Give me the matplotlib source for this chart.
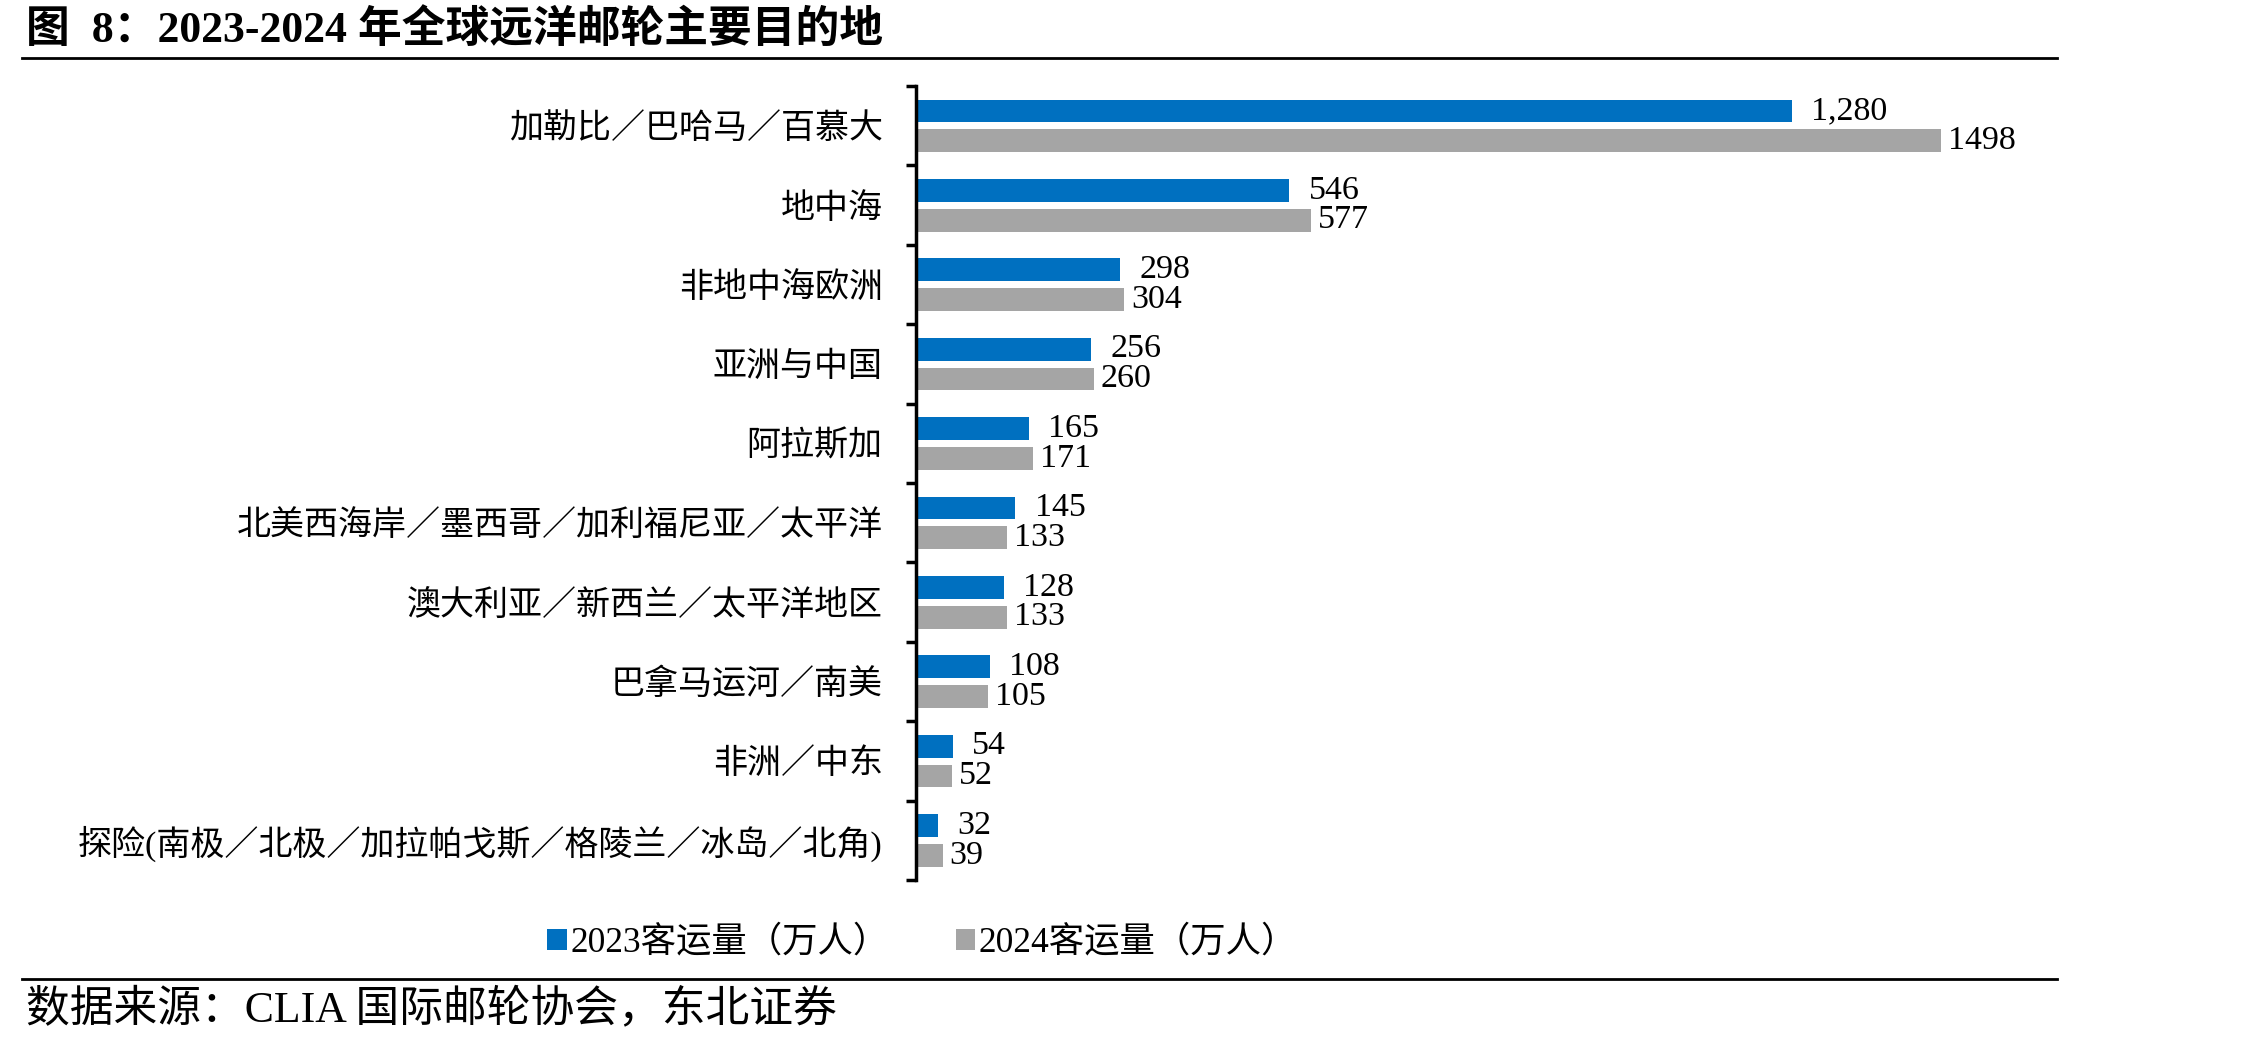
import matplotlib
matplotlib.use("Agg")
import matplotlib.pyplot as plt
import numpy as np

categories = ["加勒比／巴哈马／百慕大", "地中海", "非地中海欧洲", "亚洲与中国", "阿拉斯加",
              "北美西海岸／墨西哥／加利福尼亚／太平洋", "澳大利亚／新西兰／太平洋地区",
              "巴拿马运河／南美", "非洲／中东", "探险(南极／北极／加拉帕戈斯／格陵兰／冰岛／北角)"]
v2023 = [1280, 546, 298, 256, 165, 145, 128, 108, 54, 32]
v2024 = [1498, 577, 304, 260, 171, 133, 133, 105, 52, 39]
series_names = ["2023客运量（万人）", "2024客运量（万人）"]
title = "图  8：2023-2024 年全球远洋邮轮主要目的地"
source = "数据来源：CLIA 国际邮轮协会，东北证券"

FAM = ["Liberation Serif", "Noto Sans CJK SC", "DejaVu Sans"]
plt.rcParams['font.family'] = FAM

W, H = 2268, 1045
fig = plt.figure(figsize=(W / 100, H / 100), dpi=100)

ax_left, ax_right = 916 / W, 2100 / W
ax_top, ax_bot = 1 - 86 / H, 1 - 880 / H
ax = fig.add_axes([ax_left, ax_bot, ax_right - ax_left, ax_top - ax_bot])

blue = "#0070C0"
gray = "#A5A5A5"
n = len(categories)
y = np.arange(n)
h = 0.285
off1, off2 = 0.185, 0.19
ax.barh(y - off1, v2023, height=h, color=blue, label=series_names[0])
ax.barh(y + off2, v2024, height=h, color=gray, label=series_names[1])

for yi, v in zip(y, v2023):
    ax.annotate(f"{v:,}", (v, yi - off1), xytext=(14, 0), textcoords="offset points",
                va="center", ha="left", fontsize=24.5, family=FAM)
for yi, v in zip(y, v2024):
    ax.annotate(f"{v}", (v, yi + off2), xytext=(5, 0), textcoords="offset points",
                va="center", ha="left", fontsize=24.5, family=FAM)

ax.set_xlim(0, 1731)
ax.set_ylim(n - 0.5, -0.5)
ax.set_yticks(y)
ax.set_yticklabels(categories, fontsize=24.5)
ax.tick_params(axis='y', which='major', length=0, pad=24)
ax.set_yticks(np.arange(-0.5, n, 1.0), minor=True)
ax.tick_params(axis='y', which='minor', length=7, width=2.5, direction='out')
ax.set_xticks([])
for s in ["top", "right", "bottom"]:
    ax.spines[s].set_visible(False)
ax.spines["left"].set_linewidth(2.5)

leg = fig.legend(loc="center", bbox_to_anchor=(922 / W, 1 - 943 / H), ncol=2, frameon=False,
                 fontsize=25.5, handlelength=0.55, handleheight=0.55, handletextpad=0.1,
                 columnspacing=1.9)

fig.text(26 / W, 1 - 30 / H, title, fontsize=31.5, fontweight="bold", va="center", ha="left")
fig.add_artist(plt.Line2D([22 / W, 2057 / W], [1 - 58 / H, 1 - 58 / H], color="black", lw=2,
                          transform=fig.transFigure))
fig.add_artist(plt.Line2D([22 / W, 2057 / W], [1 - 979 / H, 1 - 979 / H], color="black", lw=2,
                          transform=fig.transFigure))
fig.text(26 / W, 1 - 1009 / H, source, fontsize=31.5, va="center", ha="left")

fig.savefig("out.png", dpi=100, facecolor="white")
